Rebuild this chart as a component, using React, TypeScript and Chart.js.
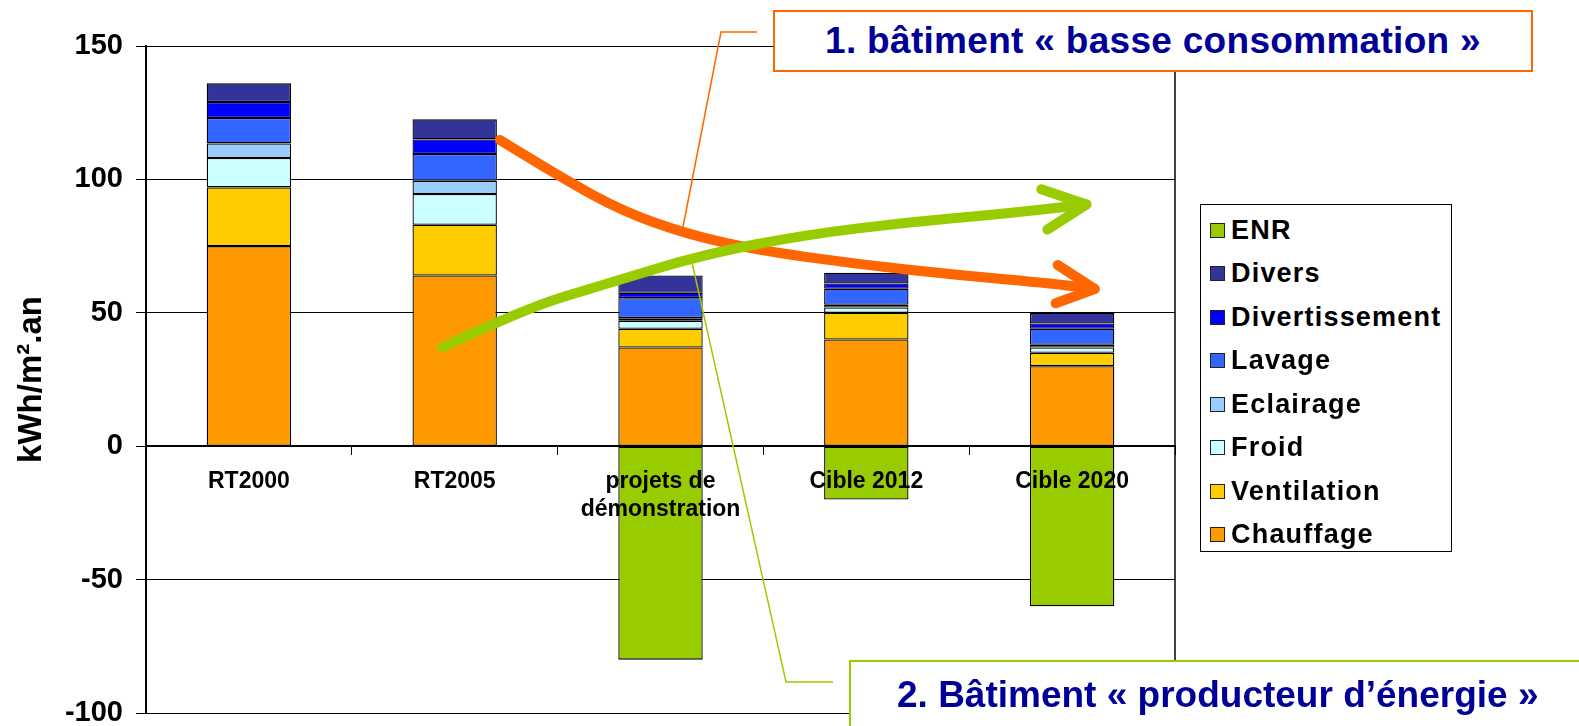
import React, { useEffect, useRef } from "react";
import { Chart, registerables } from "chart.js";

Chart.register(...registerables);

// ---------- Data ----------
const categories: (string | string[])[] = ["RT2000", "RT2005", ["projets de", "démonstration"], "Cible 2012", "Cible 2020"];
const chauffage = [75, 64, 37, 40, 30];
const ventilation = [22, 19, 7, 10, 5];
const froid = [11, 11.5, 3, 2, 2];
const eclairage = [5.5, 5, 1, 1, 1];
const lavage = [9.5, 10, 7.5, 6, 6];
const divertissement = [6, 5.5, 2, 2, 2];
const divers = [7, 7.5, 6.5, 4, 4];
const enr = [null, null, -80, -20, -60];
const yMin = -100;
const yMax = 150;
const yStep = 50;

// Annotation arrows (category index, value)
const orangeArrowX = [1.22, 1.53, 1.82, 2.12, 2.46, 2.95, 3.44, 3.93, 4.11];
const orangeArrowY = [114.8, 100.1, 88.0, 79.7, 73.6, 68.3, 64.2, 60.8, 58.9];
const orangeHeadX = [3.93, 3.92];
const orangeHeadY = [67.9, 53.6];
const greenArrowX = [0.94, 1.33, 1.73, 2.22, 2.71, 3.19, 3.68, 4.07];
const greenArrowY = [37.0, 51.3, 60.8, 72.1, 79.3, 83.8, 87.2, 90.6];
const greenHeadX = [3.85, 3.88];
const greenHeadY = [96.3, 81.2];

const FONT = '"Liberation Sans", Arial, Helvetica, sans-serif';

const series = [
  { label: "Chauffage", data: chauffage, color: "#FF9900" },
  { label: "Ventilation", data: ventilation, color: "#FFCC00" },
  { label: "Froid", data: froid, color: "#CCFFFF" },
  { label: "Eclairage", data: eclairage, color: "#99CCFF" },
  { label: "Lavage", data: lavage, color: "#3366FF" },
  { label: "Divertissement", data: divertissement, color: "#0000FF" },
  { label: "Divers", data: divers, color: "#333399" },
  { label: "ENR", data: enr, color: "#99CC00" },
];

function drawArrow(ctx: CanvasRenderingContext2D, xs: any, ys: any, xsArr: number[], ysArr: number[], hx: number[], hy: number[], color: string, width: number) {
  const pts = xsArr.map((v, i) => ({ x: xs.getPixelForValue(v), y: ys.getPixelForValue(ysArr[i]) }));
  ctx.save();
  ctx.strokeStyle = color;
  ctx.lineWidth = width;
  ctx.lineCap = "round";
  ctx.lineJoin = "round";
  ctx.beginPath();
  ctx.moveTo(pts[0].x, pts[0].y);
  for (let i = 1; i < pts.length - 1; i++) {
    const mx = (pts[i].x + pts[i + 1].x) / 2;
    const my = (pts[i].y + pts[i + 1].y) / 2;
    ctx.quadraticCurveTo(pts[i].x, pts[i].y, mx, my);
  }
  const last = pts[pts.length - 1];
  ctx.lineTo(last.x, last.y);
  ctx.stroke();
  ctx.beginPath();
  ctx.moveTo(xs.getPixelForValue(hx[0]), ys.getPixelForValue(hy[0]));
  ctx.lineTo(last.x, last.y);
  ctx.lineTo(xs.getPixelForValue(hx[1]), ys.getPixelForValue(hy[1]));
  ctx.stroke();
  ctx.restore();
}

const decorPlugin = {
  id: "decor",
  beforeDatasetsDraw(chart: any) {
    const { ctx, chartArea } = chart;
    ctx.save();
    ctx.strokeStyle = "#000";
    ctx.lineWidth = 1.5;
    ctx.beginPath();
    ctx.moveTo(chartArea.right, chartArea.top);
    ctx.lineTo(chartArea.right, chartArea.bottom);
    ctx.stroke();
    ctx.restore();
  },
  afterDatasetsDraw(chart: any) {
    const { ctx } = chart;
    const xs = chart.scales.x;
    const ys = chart.scales.y;
    drawArrow(ctx, xs, ys, orangeArrowX, orangeArrowY, orangeHeadX, orangeHeadY, "#FF6600", 10);
    drawArrow(ctx, xs, ys, greenArrowX, greenArrowY, greenHeadX, greenHeadY, "#99CC00", 10);
  },
};

export default function App() {
  const ref = useRef<HTMLCanvasElement>(null);

  useEffect(() => {
    const chart = new Chart(ref.current as HTMLCanvasElement, {
      type: "bar",
      data: {
        labels: categories as any,
        datasets: series.map((s) => ({
          label: s.label,
          data: s.data as any,
          backgroundColor: s.color,
          borderColor: "#000",
          borderWidth: 1.3,
          borderSkipped: false,
          barPercentage: 0.41,
          categoryPercentage: 1,
        })),
      },
      options: {
        responsive: false,
        animation: false,
        events: [],
        layout: { padding: { left: 0, right: 404, top: 46, bottom: 13 } },
        plugins: {
          legend: { display: false },
          tooltip: { enabled: false },
          title: { display: false },
        },
        scales: {
          x: {
            stacked: true,
            position: { y: 0 } as any,
            grid: { drawOnChartArea: false, tickLength: 8, color: "#000", lineWidth: 1, z: 1 } as any,
            border: { color: "#000", width: 2, z: 1 } as any,
            ticks: {
              font: { family: FONT, size: 23, weight: "bold", lineHeight: 1.2 },
              color: "#000",
              padding: 14,
              maxRotation: 0,
              autoSkip: false,
              z: 2,
            } as any,
            afterFit: (s: any) => {
              s.height = 0;
            },
          },
          y: {
            stacked: true,
            min: yMin,
            max: yMax,
            ticks: {
              stepSize: yStep,
              font: { family: FONT, size: 29, weight: "bold", lineHeight: 1 },
              color: "#000",
              padding: 13,
            },
            grid: { color: "#000", lineWidth: 1, tickLength: 10 },
            border: { color: "#000", width: 2 },
            title: {
              display: true,
              text: "kWh/m².an",
              color: "#000",
              font: { family: FONT, size: 33, weight: "bold", lineHeight: 1.2 },
              padding: { top: 12, bottom: 0 },
            },
            afterFit: (s: any) => {
              s.width = 146;
              s.paddingTop = 0;
              s.paddingBottom = 0;
            },
          },
        },
      },
      plugins: [decorPlugin],
    });
    return () => chart.destroy();
  }, []);

  const legendItems = [...series].reverse();

  return (
    <div
      style={{
        position: "absolute",
        left: 0,
        top: 0,
        width: 1579,
        height: 726,
        overflow: "hidden",
        background: "#fff",
        fontFamily: FONT,
      }}
    >
      <canvas ref={ref} width={1579} height={726} style={{ position: "absolute", left: 0, top: 0, display: "block" }} />
      <svg width={1579} height={726} style={{ position: "absolute", left: 0, top: 0, pointerEvents: "none" }}>
        <polyline points="757,32 721,32 682,232" fill="none" stroke="#FF6600" strokeWidth={1.5} />
        <polyline points="833,682 786,682 691,258" fill="none" stroke="#99CC00" strokeWidth={1.5} />
      </svg>
      {/* Legend */}
      <div
        style={{
          position: "absolute",
          left: 1200,
          top: 204,
          width: 252,
          height: 348,
          boxSizing: "border-box",
          border: "1.5px solid #000",
          background: "#fff",
        }}
      >
        {legendItems.map((it, i) => (
          <div
            key={it.label}
            style={{
              position: "absolute",
              left: 9,
              top: 3.5 + i * 43.5,
              height: 43.5,
              display: "flex",
              alignItems: "center",
              whiteSpace: "nowrap",
            }}
          >
            <span
              style={{
                display: "inline-block",
                width: 13,
                height: 13,
                background: it.color,
                border: "1px solid #222",
                marginRight: 6,
              }}
            />
            <span style={{ fontWeight: "bold", fontSize: 27, letterSpacing: 1.2, color: "#000" }}>{it.label}</span>
          </div>
        ))}
      </div>
      {/* Callout 1 */}
      <div
        style={{
          position: "absolute",
          left: 773,
          top: 10,
          width: 760,
          height: 62,
          boxSizing: "border-box",
          border: "2px solid #FF6600",
          background: "#fff",
          display: "flex",
          alignItems: "center",
          justifyContent: "center",
          color: "#000099",
          fontWeight: "bold",
          fontSize: 37,
          letterSpacing: 0.3,
          whiteSpace: "nowrap",
        }}
      >
        1. bâtiment « basse consommation »
      </div>
      {/* Callout 2 */}
      <div
        style={{
          position: "absolute",
          left: 849,
          top: 660,
          width: 800,
          height: 120,
          boxSizing: "border-box",
          border: "2px solid #99CC00",
          background: "#fff",
          color: "#000099",
          fontWeight: "bold",
          fontSize: 37,
          whiteSpace: "nowrap",
        }}
      >
        <div style={{ position: "absolute", left: 46, top: 12 }}>2. Bâtiment « producteur d’énergie »</div>
      </div>
    </div>
  );
}
